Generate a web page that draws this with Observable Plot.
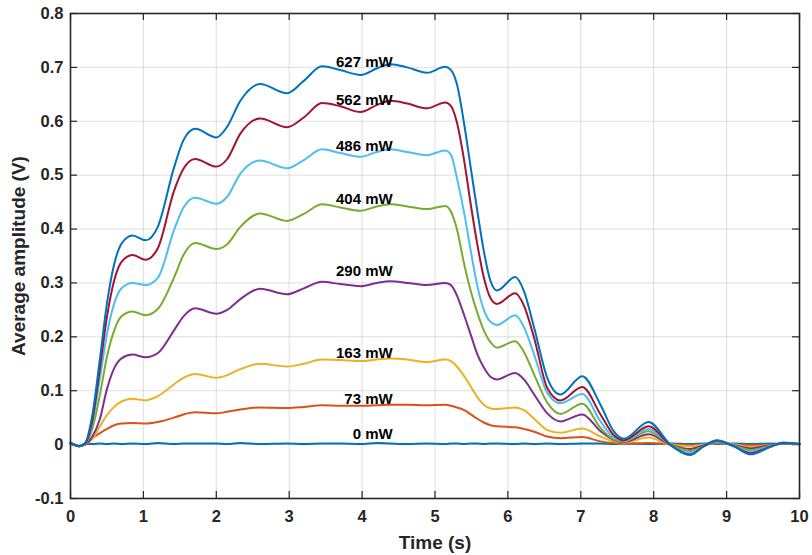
<!DOCTYPE html>
<html>
<head>
<meta charset="utf-8">
<script src="https://cdn.jsdelivr.net/npm/d3@7"></script>
<script src="https://cdn.jsdelivr.net/npm/@observablehq/plot@0.6"></script>
<style>
  html, body { margin: 0; padding: 0; background: #fff; }
  #chart svg { display: block; }
  g[aria-label$="axis label"], g[aria-label$="axis label"] text { font-size: 19px; }
</style>
</head>
<body>
<div id="chart"></div>
<script>
// Time samples (s)
const time = [
  0, 0.12, 0.2, 0.3, 0.4, 0.5, 0.6, 0.7, 0.85,
  1.03, 1.2, 1.42, 1.55, 1.71, 2.0, 2.15, 2.33, 2.6, 2.97,
  3.2, 3.45, 3.7, 3.98, 4.2, 4.39, 4.62, 4.89, 5.14,
  5.22, 5.3, 5.4, 5.49, 5.58, 5.67, 5.76, 5.85,
  6.1, 6.22, 6.36, 6.54, 6.72, 7.02, 7.27, 7.45, 7.59, 7.93,
  8.23, 8.5, 8.69, 8.87, 9.1, 9.33, 9.6, 9.78, 10
];

// Series names (laser power) in drawing order
const powers = ["0 mW", "73 mW", "163 mW", "290 mW", "404 mW", "486 mW", "562 mW", "627 mW"];
const colors = ["#0072BD", "#D95319", "#EDB120", "#7E2F8E", "#77AC30", "#4DBEEE", "#A2142F", "#0072BD"];

// Average amplitude (V)
const amp0 = [
  0.002, -0.003, 0.001, 0.001, 0.002, 0.001, 0.002, 0.001, 0.002,
  0.001, 0.003, 0.001, 0.002, 0.002, 0.002, 0.001, 0.003, 0.001, 0.002,
  0.001, 0.002, 0.002, 0.001, 0.003, 0.002, 0.001, 0.002, 0.001,
  0.002, 0.002, 0.001, 0.002, 0.002, 0.001, 0.002, 0.002,
  0.001, 0.002, 0.001, 0.002, 0.001, 0.002, 0.002, 0.001, 0.002, 0.001,
  0.002, 0.001, 0.002, 0.001, 0.002, 0.001, 0.002, 0.001, 0.001
];
const amp73 = [
  0.003, -0.002, 0.0, 0.012, 0.021, 0.029, 0.036, 0.039, 0.040,
  0.039, 0.042, 0.050, 0.056, 0.060, 0.058, 0.061, 0.065, 0.069, 0.068,
  0.070, 0.073, 0.072, 0.072, 0.073, 0.074, 0.074, 0.073, 0.074,
  0.072, 0.069, 0.064, 0.056, 0.048, 0.041, 0.036, 0.034,
  0.032, 0.029, 0.024, 0.015, 0.012, 0.014, 0.006, 0.003, 0.002, 0.003,
  0.001, -0.001, 0.0, 0.002, 0.0, -0.001, 0.0, 0.001, 0.001
];
const amp163 = [
  0.003, -0.002, 0.0, 0.010, 0.033, 0.055, 0.070, 0.080, 0.085,
  0.082, 0.090, 0.112, 0.124, 0.131, 0.124, 0.129, 0.140, 0.150, 0.145,
  0.150, 0.158, 0.157, 0.155, 0.158, 0.160, 0.158, 0.153, 0.158,
  0.155, 0.145, 0.127, 0.108, 0.088, 0.074, 0.067, 0.066,
  0.069, 0.064, 0.048, 0.027, 0.022, 0.030, 0.015, 0.006, 0.004, 0.013,
  0.0, -0.003, 0.0, 0.003, 0.0, -0.004, -0.001, 0.002, 0.001
];
const amp290 = [
  0.003, -0.003, 0.0, 0.015, 0.046, 0.103, 0.142, 0.160, 0.167,
  0.162, 0.170, 0.212, 0.238, 0.253, 0.243, 0.250, 0.270, 0.289, 0.279,
  0.290, 0.302, 0.298, 0.294, 0.300, 0.303, 0.300, 0.296, 0.300,
  0.296, 0.277, 0.240, 0.204, 0.168, 0.143, 0.126, 0.121,
  0.133, 0.121, 0.093, 0.058, 0.043, 0.056, 0.025, 0.009, 0.005, 0.019,
  0.0, -0.008, -0.001, 0.004, -0.001, -0.007, -0.001, 0.002, 0.001
];
const amp404 = [
  0.003, -0.003, 0.001, 0.030, 0.090, 0.163, 0.212, 0.238, 0.247,
  0.240, 0.252, 0.310, 0.352, 0.374, 0.363, 0.372, 0.404, 0.429, 0.415,
  0.428, 0.446, 0.440, 0.434, 0.442, 0.446, 0.442, 0.437, 0.443,
  0.432, 0.400, 0.335, 0.285, 0.245, 0.212, 0.190, 0.180,
  0.192, 0.172, 0.130, 0.078, 0.057, 0.076, 0.031, 0.010, 0.006, 0.025,
  0.0, -0.012, -0.002, 0.005, -0.002, -0.010, -0.002, 0.002, 0.001
];
const amp486 = [
  0.003, -0.003, 0.002, 0.040, 0.120, 0.205, 0.262, 0.290, 0.300,
  0.296, 0.310, 0.398, 0.440, 0.458, 0.447, 0.460, 0.503, 0.527, 0.513,
  0.528, 0.548, 0.541, 0.534, 0.543, 0.548, 0.543, 0.537, 0.546,
  0.538, 0.495, 0.430, 0.360, 0.295, 0.250, 0.228, 0.222,
  0.240, 0.218, 0.167, 0.096, 0.077, 0.094, 0.043, 0.013, 0.007, 0.029,
  -0.001, -0.016, -0.003, 0.006, -0.002, -0.013, -0.003, 0.003, 0.001
];
const amp562 = [
  0.003, -0.003, 0.002, 0.045, 0.138, 0.237, 0.305, 0.339, 0.352,
  0.343, 0.365, 0.471, 0.512, 0.530, 0.516, 0.530, 0.577, 0.605, 0.589,
  0.607, 0.634, 0.628, 0.617, 0.630, 0.638, 0.633, 0.624, 0.635,
  0.628, 0.598, 0.527, 0.446, 0.372, 0.310, 0.272, 0.261,
  0.281, 0.258, 0.198, 0.105, 0.082, 0.107, 0.056, 0.018, 0.008, 0.034,
  -0.001, -0.019, -0.003, 0.007, -0.003, -0.016, -0.004, 0.003, 0.001
];
const amp627 = [
  0.003, -0.003, 0.003, 0.055, 0.155, 0.262, 0.335, 0.373, 0.388,
  0.379, 0.405, 0.514, 0.565, 0.586, 0.570, 0.590, 0.638, 0.669, 0.652,
  0.675, 0.702, 0.695, 0.686, 0.698, 0.706, 0.700, 0.690, 0.701,
  0.695, 0.669, 0.595, 0.514, 0.434, 0.359, 0.304, 0.286,
  0.311, 0.285, 0.217, 0.124, 0.093, 0.127, 0.074, 0.025, 0.011, 0.042,
  0.0, -0.019, -0.002, 0.008, -0.003, -0.018, -0.004, 0.004, 0.001
];
const amplitudes = [amp0, amp73, amp163, amp290, amp404, amp486, amp562, amp627];

// In-plot label positions (time, amplitude)
const labelTime = [4.42, 4.42, 4.42, 4.42, 4.42, 4.42, 4.42, 4.42];
const labelAmp = [0.019, 0.084, 0.170, 0.322, 0.455, 0.554, 0.639, 0.709];

// Ticks
const xTicks = [0, 1, 2, 3, 4, 5, 6, 7, 8, 9, 10];
const xTickLabels = ["0", "1", "2", "3", "4", "5", "6", "7", "8", "9", "10"];
const yTicks = [-0.1, 0, 0.1, 0.2, 0.3, 0.4, 0.5, 0.6, 0.7, 0.8];
const yTickLabels = ["-0.1", "0", "0.1", "0.2", "0.3", "0.4", "0.5", "0.6", "0.7", "0.8"];

const rows = powers.flatMap((p, k) => time.map((t, i) => ({series: k, power: p, t, v: amplitudes[k][i]})));
const labels = powers.map((p, k) => ({power: p, t: labelTime[k], v: labelAmp[k]}));

const W = 812, H = 555, mL = 70, mR = 13, mT = 13, mB = 57;
const frameW = W - mL - mR, frameH = H - mT - mB, tick = 7;
const gridStyle = {stroke: "#262626", strokeOpacity: 0.15, strokeWidth: 1};
const tickStyle = {stroke: "#262626", strokeWidth: 1.2};

const chart = Plot.plot({
  width: W,
  height: H,
  marginLeft: mL,
  marginRight: mR,
  marginTop: mT,
  marginBottom: mB,
  style: {
    fontFamily: "'Liberation Sans', Arial, Helvetica, sans-serif",
    fontSize: "16.5px",
    fontWeight: "bold",
    color: "#262626",
    background: "#ffffff"
  },
  x: {domain: [0, 10]},
  y: {domain: [-0.1, 0.8]},
  color: {domain: d3.range(powers.length), range: colors},
  marks: [
    Plot.gridX(xTicks, gridStyle),
    Plot.gridY(yTicks, gridStyle),
    Plot.axisX(xTicks, {
      anchor: "bottom", tickSize: 0, tickPadding: 12,
      tickFormat: d => xTickLabels[xTicks.indexOf(d)],
      label: "Time (s)", labelAnchor: "center", labelOffset: 50, labelArrow: "none"
    }),
    Plot.axisY(yTicks, {
      anchor: "left", tickSize: 0, tickPadding: 7,
      tickFormat: d => yTickLabels[yTicks.indexOf(d)],
      label: "Average amplitude (V)", labelAnchor: "center", labelOffset: 59, labelArrow: "none"
    }),
    // inward tick marks on all four sides
    Plot.tickX(xTicks, {x: d => d, insetTop: frameH - tick, ...tickStyle}),
    Plot.tickX(xTicks, {x: d => d, insetBottom: frameH - tick, ...tickStyle}),
    Plot.tickY(yTicks, {y: d => d, insetRight: frameW - tick, ...tickStyle}),
    Plot.tickY(yTicks, {y: d => d, insetLeft: frameW - tick, ...tickStyle}),
    Plot.line(rows, {x: "t", y: "v", z: "series", stroke: "series", strokeWidth: 2, curve: "monotone-x"}),
    Plot.text(labels, {x: "t", y: "v", text: "power", textAnchor: "end", fontSize: 15, fontWeight: "bold", fill: "#000"}),
    Plot.frame({stroke: "#262626", strokeWidth: 1.6})
  ]
});
document.getElementById("chart").appendChild(chart);
</script>
</body>
</html>
